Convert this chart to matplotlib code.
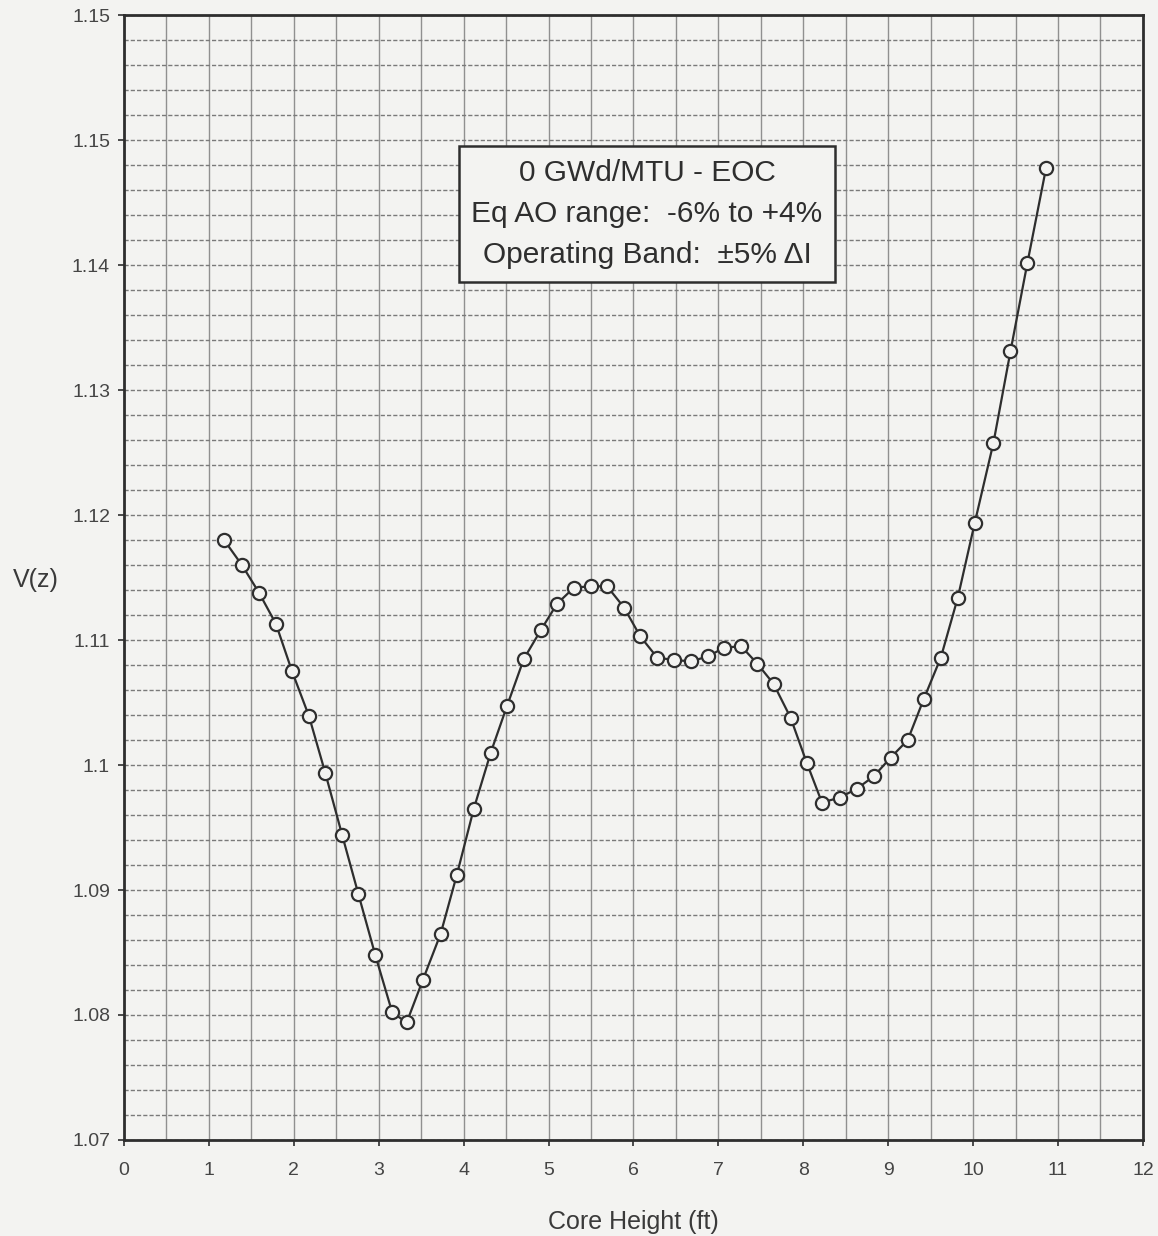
import numpy as np
import matplotlib.pyplot as plt
from matplotlib.ticker import MultipleLocator, FixedLocator

# core height (ft) and V(z)
height = [1.18, 1.39, 1.59, 1.79, 1.98, 2.18, 2.37, 2.57, 2.76, 2.96,
          3.16, 3.33, 3.52, 3.73, 3.92, 4.12, 4.32, 4.51, 4.71, 4.91,
          5.10, 5.30, 5.50, 5.69, 5.89, 6.08, 6.28, 6.48, 6.68, 6.88,
          7.07, 7.27, 7.46, 7.65, 7.85, 8.04, 8.22, 8.43, 8.63, 8.83,
          9.03, 9.23, 9.42, 9.62, 9.82, 10.02, 10.24, 10.44, 10.64, 10.86]
vz = [1.1180, 1.1160, 1.1138, 1.1113, 1.1075, 1.1039, 1.0994, 1.0944, 1.0897, 1.0848,
      1.0802, 1.0794, 1.0828, 1.0865, 1.0912, 1.0965, 1.1010, 1.1047, 1.1085, 1.1108,
      1.1129, 1.1142, 1.1143, 1.1143, 1.1126, 1.1103, 1.1086, 1.1084, 1.1083, 1.1087,
      1.1094, 1.1095, 1.1081, 1.1065, 1.1038, 1.1002, 1.0970, 1.0974, 1.0981, 1.0991,
      1.1006, 1.1020, 1.1053, 1.1086, 1.1134, 1.1194, 1.1258, 1.1331, 1.1402, 1.1478]

ytick_vals = [1.07, 1.08, 1.09, 1.10, 1.11, 1.12, 1.13, 1.14, 1.15, 1.16]
ytick_labels = ['1.07', '1.08', '1.09', '1.1', '1.11', '1.12', '1.13', '1.14', '1.15', '1.15']
xtick_vals = list(range(0, 13))

note = "0 GWd/MTU - EOC\nEq AO range:  -6% to +4%\nOperating Band:  \u00b15% \u0394I"

plt.rcParams['font.family'] = ['Liberation Sans', 'DejaVu Sans']

bg = '#f3f3f1'
ink = '#2e2e2e'

fig = plt.figure(figsize=(11.58, 12.36), dpi=100, facecolor=bg)
ax = fig.add_axes([0.107, 0.0777, 0.880, 0.910])
ax.set_facecolor(bg)

ax.set_xlim(0, 12)
ax.set_ylim(1.07, 1.16)

ax.xaxis.set_major_locator(FixedLocator(xtick_vals))
ax.xaxis.set_minor_locator(MultipleLocator(0.5))
ax.yaxis.set_major_locator(FixedLocator(ytick_vals))
ax.yaxis.set_minor_locator(MultipleLocator(0.002))
ax.set_yticklabels(ytick_labels)

ax.grid(which='both', axis='x', color='#909090', lw=1.0)
ax.grid(which='both', axis='y', color='#7a7a7a', lw=1.0, ls=(0, (3, 1.5)))
ax.set_axisbelow(True)

for s in ax.spines.values():
    s.set_color(ink)
    s.set_linewidth(2.0)

ax.tick_params(which='major', direction='out', length=4, width=1.2, color=ink,
               labelsize=14, labelcolor='#454545')
ax.tick_params(axis='x', pad=12)
ax.tick_params(axis='y', pad=6)
ax.tick_params(which='minor', length=0)

ax.plot(height, vz, color=ink, lw=1.6, marker='o', ms=9.5, mfc=bg, mec=ink, mew=1.6)

ax.text(6.16, 1.1441, note, ha='center', va='center', fontsize=21.5, color=ink,
        linespacing=1.6,
        bbox=dict(boxstyle='square,pad=0.42', fc=bg, ec=ink, lw=1.8))

ax.set_xlabel('Core Height (ft)', fontsize=18, color='#3a3a3a', va='center')
ax.set_ylabel('V(z)', fontsize=18, color='#3a3a3a', rotation=0, ha='center', va='center')
ax.xaxis.set_label_coords(0.4995, -0.073)
ax.yaxis.set_label_coords(-0.0864, 0.498)

fig.savefig('out.png', dpi=100, facecolor=bg)
